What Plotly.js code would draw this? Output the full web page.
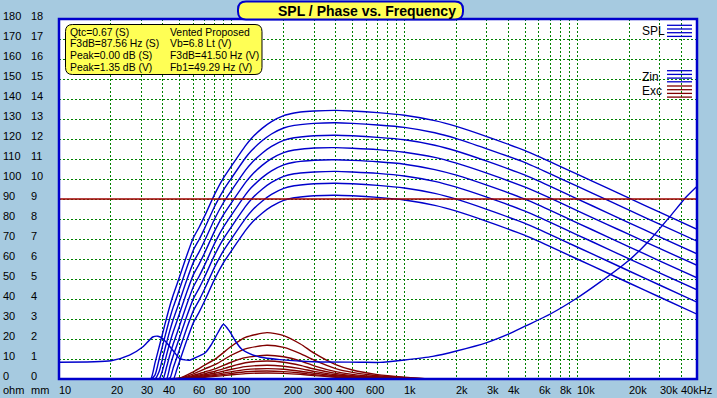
<!DOCTYPE html>
<html><head><meta charset="utf-8">
<script src="https://cdn.plot.ly/plotly-3.0.1.min.js"></script>
<style>html,body{margin:0;padding:0;background:#A6CAE0;overflow:hidden}#chart{width:717px;height:398px}</style>
</head><body><div id="chart"></div>
<script>
// ---------- data ----------
const splFreq = [10,32,34,36,38,40,42,44,46,48,50,55,60,65,70,80,90,100,120,130,150,170,200,230,250,300,400,500,700,1000,1500,2000,3000,5000,7000,10000,15000,20000,30000,49500];
const spl1 = [0,0,0,8.2,16,23.5,30.6,37,42.4,46.9,51.4,61.9,70.6,76.1,81.8,92.7,100.8,106.7,116.6,120.3,125.3,128.7,131.7,133.0,133.5,134,134.3,134,133.2,131.9,129.2,126.3,121.2,114.2,108.6,102.4,95.4,90.4,83.4,74.8];
const spl2 = [0,0,0,2.1,9.9,17.4,24.5,30.9,36.3,40.8,45.3,55.8,64.5,70,75.7,86.6,94.7,100.6,110.5,114.1,119.1,122.5,125.5,126.8,127.2,127.8,128.1,127.8,127.0,125.8,123.1,120.2,115.1,108.2,102.6,96.4,89.4,84.4,77.4,68.9];
const spl3 = [0,0,0,0,3.7,11.2,18.3,24.7,30.1,34.6,39.1,49.6,58.3,63.8,69.5,80.4,88.5,94.4,104.3,107.9,112.9,116.3,119.3,120.6,121.0,121.6,121.9,121.6,120.8,119.6,116.9,114.0,108.9,101.9,96.3,90.1,83.1,78.1,71.1,62.6];
const spl4 = [0,0,0,0,0,5.1,12.2,18.6,24.0,28.5,33.0,43.5,52.2,57.7,63.4,74.3,82.4,88.3,98.2,101.8,106.8,110.2,113.2,114.5,114.9,115.5,115.7,115.4,114.7,113.4,110.8,107.9,102.9,95.9,90.4,84.2,77.2,72.3,65.3,56.8];
const spl5 = [0,0,0,0,0,0,6.1,12.5,17.9,22.4,26.9,37.4,46.1,51.6,57.3,68.2,76.3,82.2,92.1,95.7,100.7,104.1,107.1,108.4,108.8,109.4,109.6,109.3,108.6,107.4,104.7,101.9,96.9,89.9,84.3,78.1,71.1,66.1,59.1,50.6];
const spl6 = [0,0,0,0,0,0,0.2,6.6,12.0,16.5,21.0,31.5,40.2,45.7,51.4,62.3,70.4,76.3,86.2,89.9,94.9,98.3,101.3,102.6,103.0,103.5,103.8,103.5,102.8,101.5,98.8,95.9,90.9,83.9,78.3,72.1,65.1,60.1,53.1,44.6];
const spl7 = [0,0,0,0,0,0,0,0.6,6.0,10.5,15.0,25.5,34.2,39.7,45.4,56.3,64.4,70.3,80.2,83.9,88.9,92.3,95.3,96.6,97.0,97.6,97.9,97.6,96.8,95.5,92.8,89.9,84.8,77.8,72.2,66.0,59.0,54.0,47.0,38.4];
const spl8 = [0,0,0,0,0,0,0,0,0,4.5,9.0,19.5,28.2,33.7,39.4,50.3,58.4,64.3,74.2,77.9,82.9,86.3,89.3,90.6,91.0,91.6,91.9,91.6,90.8,89.5,86.8,83.9,78.8,71.8,66.2,60.0,53.0,48.0,41.0,32.4];

const zinFreq = [10,20,25.6,30.5,34.9,37.4,39.9,45.6,50,57,61,70,76,83,89.6,97,105,114,127,145,190,294,550,720,1000,1460,2000,3000,4000,5000,7000,10000,13500,20000,26300,34300,42800,49500];
const zinVals = [8.4,9.1,11.9,16,21,21.4,20.2,14.4,10.2,9.4,10.5,13,17,23,27.4,24,19,15,12.7,11,9.7,8.6,8.4,8.3,9.5,11.3,14,18.2,22.4,26.4,32.5,40.5,48.3,59.4,69.4,81,91,96.4];

const excFreq = [32,50,60,70,81,100,120,160,200,250,300,400,500,700,1000,1400];
const exc1 = [0,0.5,3.6,7,10.2,16.5,20.8,23.2,21.7,17.5,12.9,7.2,4.5,2.2,0.9,0];
const exc2 = [0,0.4,2.6,5.1,7.4,12,15.1,16.9,15.8,12.7,9.4,5.2,3.3,1.6,0.7,0];
const exc3 = [0,0.3,1.8,3.6,5.2,8.5,10.7,11.9,11.1,9,6.6,3.7,2.3,1.1,0.5,0];
const exc4 = [0,0.2,1.4,2.7,4,6.4,8.1,9,8.4,6.8,5,2.8,1.7,0.9,0.3,0];
const exc5 = [0,0.1,1.1,2.1,3,4.9,6.2,6.9,6.4,5.2,3.8,2.1,1.3,0.7,0.3,0];
const exc6 = [0,0.1,0.8,1.6,2.3,3.7,4.7,5.2,4.9,3.9,2.9,1.6,1,0.5,0.2,0];
const exc7 = [0,0.1,0.6,1.2,1.8,2.8,3.6,4,3.7,3,2.2,1.2,0.8,0.4,0.2,0];
const exc8 = [0,0.1,0.5,0.9,1.3,2.1,2.7,3,2.8,2.3,1.7,0.9,0.6,0.3,0.1,0];

const xTickVals = [10,20,30,40,50,60,70,80,90,100,200,300,400,500,600,700,800,900,1000,2000,3000,4000,5000,6000,7000,8000,9000,10000,20000,30000,40000];
const xTickText = ['10','20','30','40','','60','','80','','100','200','300','400','','600','','','','1k','2k','3k','4k','','6k','','8k','','10k','20k','30k','40kHz'];
const yTickVals = [180,170,160,150,140,130,120,110,100,90,80,70,60,50,40,30,20,10,0];
const yLabelsOhm = ['180','170','160','150','140','130','120','110','100','90','80','70','60','50','40','30','20','10','0'];
const yLabelsMm = ['18','17','16','15','14','13','12','11','10','9','8','7','6','5','4','3','2','1','0'];
const refLevel = 90;
const titleText = 'SPL / Phase vs. Frequency';
const infoLeft = ['Qtc=0.67 (S)','F3dB=87.56 Hz (S)','Peak=0.00 dB (S)','Peak=1.35 dB (V)'];
const infoRight = ['Vented Proposed','Vb=6.8 Lt (V)','F3dB=41.50 Hz (V)','Fb1=49.29 Hz (V)'];
const legendNames = ['SPL','Zin','Exc'];

// ---------- styling / layout ----------
const W = 717, H = 398, L = 59, R = 20, T = 19, B = 19;
const PW = W - L - R, PH = H - T - B;
const DEC = 172.7;
const BLUE = '#0000CC', DRED = '#800000', GRID = '#008000', BG = '#A6CAE0', YEL = '#FFFF55';
const FONT = 'Liberation Sans, Arial, sans-serif';
const px = x => (x - L) / PW;
const py = y => (H - B - y) / PH;

function roundRect(x0, y0, x1, y1, r) {
  const P = (x, y) => px(x).toFixed(5) + ',' + py(y).toFixed(5);
  return 'M' + P(x0 + r, y0) + ' L' + P(x1 - r, y0) + ' Q' + P(x1, y0) + ' ' + P(x1, y0 + r) +
    ' L' + P(x1, y1 - r) + ' Q' + P(x1, y1) + ' ' + P(x1 - r, y1) +
    ' L' + P(x0 + r, y1) + ' Q' + P(x0, y1) + ' ' + P(x0, y1 - r) +
    ' L' + P(x0, y0 + r) + ' Q' + P(x0, y0) + ' ' + P(x0 + r, y0) + ' Z';
}

const traces = [];
[spl1, spl2, spl3, spl4, spl5, spl6, spl7, spl8].forEach(s => traces.push({
  x: splFreq, y: s, type: 'scatter', mode: 'lines', line: {color: BLUE, width: 1.4, shape: 'spline', smoothing: 0.6}, hoverinfo: 'skip'
}));
[exc1, exc2, exc3, exc4, exc5, exc6, exc7, exc8].forEach(s => traces.push({
  x: excFreq, y: s, type: 'scatter', mode: 'lines', line: {color: DRED, width: 1.4, shape: 'spline', smoothing: 0.6}, hoverinfo: 'skip'
}));
traces.push({x: zinFreq, y: zinVals, type: 'scatter', mode: 'lines', line: {color: BLUE, width: 1.4, shape: 'spline', smoothing: 0.6}, hoverinfo: 'skip'});

const shapes = [];
const annotations = [];
// reference line
shapes.push({type: 'line', xref: 'paper', yref: 'y', x0: 0, x1: 1, y0: refLevel, y1: refLevel, line: {color: '#A00000', width: 1.5}, layer: 'above'});
// plot border
shapes.push({type: 'rect', xref: 'paper', yref: 'paper', x0: 0, x1: 1, y0: 0, y1: 1, line: {color: BLUE, width: 2.5}, layer: 'above'});
// title box
shapes.push({type: 'path', xref: 'paper', yref: 'paper', path: roundRect(238, 1.5, 463, 19.5, 8), fillcolor: YEL, line: {color: BLUE, width: 2}, layer: 'above'});
annotations.push({xref: 'paper', yref: 'paper', x: px(278), y: py(10.5), xanchor: 'left', yanchor: 'middle', text: '<b>' + titleText + '</b>', showarrow: false, borderpad: 0, borderwidth: 0, font: {family: FONT, size: 14, color: '#000'}});
// info box
shapes.push({type: 'path', xref: 'paper', yref: 'paper', path: roundRect(65.5, 24.5, 262, 74.5, 7), fillcolor: YEL, line: {color: '#000', width: 1}, layer: 'above'});
const infoY = [32.2, 43.8, 55.3, 67.5];
infoLeft.forEach((t, i) => annotations.push({xref: 'paper', yref: 'paper', x: px(69.5), y: py(infoY[i]), xanchor: 'left', yanchor: 'middle', text: t, showarrow: false, borderpad: 0, borderwidth: 0, font: {family: FONT, size: 10.4, color: '#000'}}));
infoRight.forEach((t, i) => annotations.push({xref: 'paper', yref: 'paper', x: px(169.5), y: py(infoY[i]), xanchor: 'left', yanchor: 'middle', text: t, showarrow: false, borderpad: 0, borderwidth: 0, font: {family: FONT, size: 10.4, color: '#000'}}));
// legend
const legY = [31.5, 76.5, 91.5];
const legLineY0 = [25.3, 70.7, 86];
const legColor = [BLUE, BLUE, DRED];
legendNames.forEach((n, i) => {
  annotations.push({xref: 'paper', yref: 'paper', x: px(642), y: py(legY[i]), xanchor: 'left', yanchor: 'middle', text: n, showarrow: false, borderpad: 0, borderwidth: 0, font: {family: FONT, size: 12, color: '#000'}});
  for (let k = 0; k < 4; k++) {
    const yy = py(legLineY0[i] + k * 3.7);
    shapes.push({type: 'line', xref: 'paper', yref: 'paper', x0: px(667), x1: px(692), y0: yy, y1: yy, line: {color: legColor[i], width: 1.3}, layer: 'above'});
  }
});
// y-axis labels (two columns)
yTickVals.forEach((v, i) => {
  annotations.push({xref: 'paper', yref: 'y', x: px(3), y: v, yshift: 3.5, xanchor: 'left', yanchor: 'middle', text: yLabelsOhm[i], showarrow: false, borderpad: 0, borderwidth: 0, font: {family: FONT, size: 11, color: '#000'}});
  annotations.push({xref: 'paper', yref: 'y', x: px(31), y: v, yshift: 3.5, xanchor: 'left', yanchor: 'middle', text: yLabelsMm[i], showarrow: false, borderpad: 0, borderwidth: 0, font: {family: FONT, size: 11, color: '#000'}});
});
annotations.push({xref: 'paper', yref: 'paper', x: px(3), y: py(390), xanchor: 'left', yanchor: 'middle', text: 'ohm', showarrow: false, borderpad: 0, borderwidth: 0, font: {family: FONT, size: 11, color: '#000'}});
annotations.push({xref: 'paper', yref: 'paper', x: px(31), y: py(390), xanchor: 'left', yanchor: 'middle', text: 'mm', showarrow: false, borderpad: 0, borderwidth: 0, font: {family: FONT, size: 11, color: '#000'}});
// x-axis labels
xTickVals.forEach((v, i) => {
  if (!xTickText[i]) return;
  annotations.push({xref: 'x', yref: 'paper', x: Math.log10(v), y: py(390), xanchor: 'left', yanchor: 'middle', text: xTickText[i], showarrow: false, borderpad: 0, borderwidth: 0, font: {family: FONT, size: 11, color: '#000'}});
});

const layout = {
  width: W, height: H,
  margin: {l: L, r: R, t: T, b: B, pad: 0},
  paper_bgcolor: BG, plot_bgcolor: '#FFFFFF',
  showlegend: false,
  xaxis: {type: 'log', range: [1, 1 + PW / DEC], tickmode: 'array', tickvals: xTickVals, ticktext: xTickText,
    showticklabels: false, ticks: '', showgrid: true, gridcolor: GRID, gridwidth: 1, griddash: '2px,2px',
    zeroline: false, showline: false, fixedrange: true},
  yaxis: {range: [0, 180], tickmode: 'array', tickvals: yTickVals, showticklabels: false, ticks: '',
    showgrid: true, gridcolor: GRID, gridwidth: 1, griddash: '2px,2px', zeroline: false, showline: false, fixedrange: true},
  shapes: shapes,
  annotations: annotations
};

Plotly.newPlot('chart', traces, layout, {displayModeBar: false, staticPlot: true});
</script>
</body></html>
